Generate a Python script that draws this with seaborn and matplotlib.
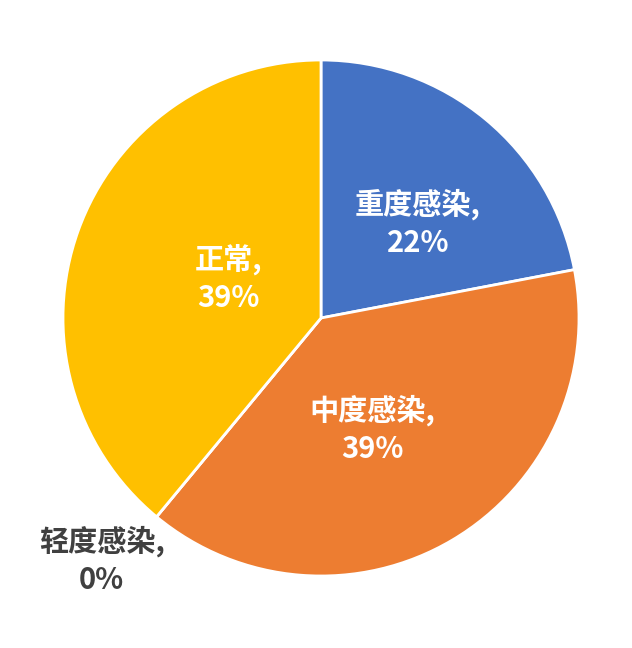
import numpy as np
import matplotlib
matplotlib.use('Agg')
import matplotlib.pyplot as plt
import seaborn as sns

categories = ["重度感染", "中度感染", "轻度感染", "正常"]
values = [22, 39, 0, 39]
colors = ["#4472C4", "#ED7D31", "#A5A5A5", "#FFC000"]

sns.set_theme(style="white")
plt.rcParams['font.family'] = ['Noto Sans CJK SC', 'DejaVu Sans']

fig = plt.figure(figsize=(6.32, 6.48), dpi=100)
ax = fig.add_axes([0, 0, 1, 1])
pal = sns.color_palette(colors)

labels = [f"{c},\n{v}%" for c, v in zip(categories, values)]
wedges, texts = ax.pie(values, labels=labels, colors=pal, startangle=90,
                       counterclock=False, labeldistance=0.5,
                       wedgeprops=dict(edgecolor="white", linewidth=2),
                       textprops=dict(color="white", fontsize=21, fontweight="bold",
                                      ha="center", va="center", linespacing=1.32))

# label placement (Excel-like best fit), in radii units
label_pos = [(0.376, 0.368), (0.20, -0.43), (-0.85, -0.94), (-0.36, 0.155)]
for t, pos in zip(texts, label_pos):
    t.set_position(pos)
    t.set_ha("center")
    t.set_va("center")
    t.set_multialignment("center")
texts[2].set_color("#404040")

r = 258.0
ax.set_xlim(-321 / r, (632 - 321) / r)
ax.set_ylim(-(648 - 318) / r, 318 / r)
ax.set_aspect("auto")
ax.axis("off")
fig.savefig("out.png", dpi=100, facecolor="white")
